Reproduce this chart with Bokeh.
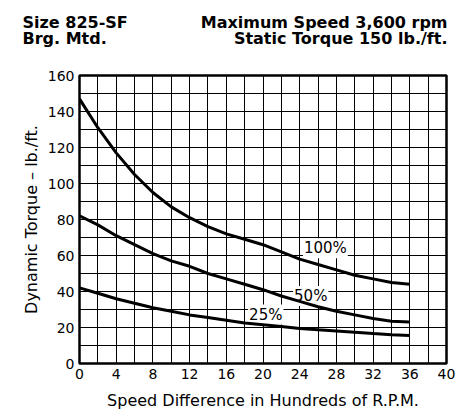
from bokeh.plotting import figure
from bokeh.models import Label, SingleIntervalTicker, FixedTicker, Range1d
from bokeh.layouts import column, row
from bokeh.core.properties import value
from bokeh.embed import file_html
from bokeh.resources import INLINE

speed = [0, 2, 4, 6, 8, 10, 12, 14, 16, 18, 20, 22, 24, 26, 28, 30, 32, 34, 36]
torque_100 = [147, 131, 117, 105, 95, 87, 81, 76, 72, 69, 66, 62, 58, 55, 52, 49, 47, 45, 44]
torque_50 = [82, 77, 71, 66, 61, 57, 54, 50, 47, 44, 41, 37.5, 34.5, 31.5, 29, 27, 25, 23.5, 23]
torque_25 = [42, 39, 36, 33.5, 31, 29, 27, 25.5, 24, 22.5, 21.5, 20.5, 19.5, 18.7, 18, 17.3, 16.6, 16, 15.6]

x_ticks = [0, 4, 8, 12, 16, 20, 24, 28, 32, 36, 40]
y_ticks = [0, 20, 40, 60, 80, 100, 120, 140, 160]

curve_labels = ["100%", "50%", "25%"]
label_x = [26.8, 25.2, 20.3]
label_y = [64, 37.5, 27.2]

title_left = ["Size 825-SF", "Brg. Mtd."]
title_right = ["Maximum Speed 3,600 rpm", "Static Torque 150 lb./ft."]

FONT = "DejaVu Sans"

# ---- header (title lines) ----
TW, TH = 469, 60
hdr = figure(width=TW, height=TH, output_backend="svg", toolbar_location=None,
             x_range=Range1d(0, TW), y_range=Range1d(TH, 0),
             x_axis_location=None, y_axis_location=None,
             min_border=0)
hdr.grid.visible = False
hdr.outline_line_color = None
hdr.text(x=[22, 22], y=[22, 38], text=title_left, text_align="left",
         text_baseline="alphabetic", text_font=value(FONT), text_font_size="16px",
         text_font_style="bold", text_color="black")
hdr.text(x=[447, 447], y=[22, 38], text=title_right, text_align="right",
         text_baseline="alphabetic", text_font=value(FONT), text_font_size="16px",
         text_font_style="bold", text_color="black")

# ---- main chart ----
p = figure(frame_width=367, frame_height=288, output_backend="svg", toolbar_location=None,
           x_range=Range1d(0, 40), y_range=Range1d(0, 160),
           min_border_left=79, min_border_right=23, min_border_top=15, min_border_bottom=45)

p.background_fill_color = "white"
p.border_fill_color = "white"
p.outline_line_color = "black"
p.outline_line_width = 2.5

p.xaxis.ticker = FixedTicker(ticks=x_ticks)
p.yaxis.ticker = FixedTicker(ticks=y_ticks)
p.xgrid.ticker = SingleIntervalTicker(interval=2)
p.ygrid.ticker = SingleIntervalTicker(interval=10)
for g in (p.xgrid, p.ygrid):
    g.grid_line_color = "black"
    g.grid_line_width = 1
    g.grid_line_alpha = 1

for ax in (p.xaxis, p.yaxis):
    ax.axis_line_color = None
    ax.major_tick_line_color = None
    ax.minor_tick_line_color = None
    ax.major_tick_out = 0
    ax.major_tick_in = 0
    ax.minor_tick_out = 0
    ax.minor_tick_in = 0
    ax.major_label_text_font = FONT
    ax.major_label_text_font_size = "14px"
    ax.major_label_text_color = "black"
    ax.axis_label_text_font = FONT
    ax.axis_label_text_font_size = "16px"
    ax.axis_label_text_font_style = "normal"
    ax.axis_label_text_color = "black"

p.xaxis.major_label_standoff = 5
p.yaxis.major_label_standoff = 5
p.xaxis.axis_label = "Speed Difference in Hundreds of R.P.M."
p.yaxis.axis_label = "Dynamic Torque \u2013 lb./ft."
p.xaxis.axis_label_standoff = 9
p.yaxis.axis_label_standoff = 4

# curve labels go under the curves but over the grid
for t, lx, ly in zip(curve_labels, label_x, label_y):
    p.add_layout(Label(x=lx, y=ly, text=t, text_align="center", text_baseline="middle",
                       text_font=FONT, text_font_size="15px", text_color="black",
                       background_fill_color="white", background_fill_alpha=1.0,
                       padding=1, level="underlay"))

for ys in (torque_100, torque_50, torque_25):
    p.line(speed, ys, line_color="black", line_width=3)

layout = column(row(hdr), p, spacing=0)
open("out.html", "w").write(file_html(layout, INLINE))
